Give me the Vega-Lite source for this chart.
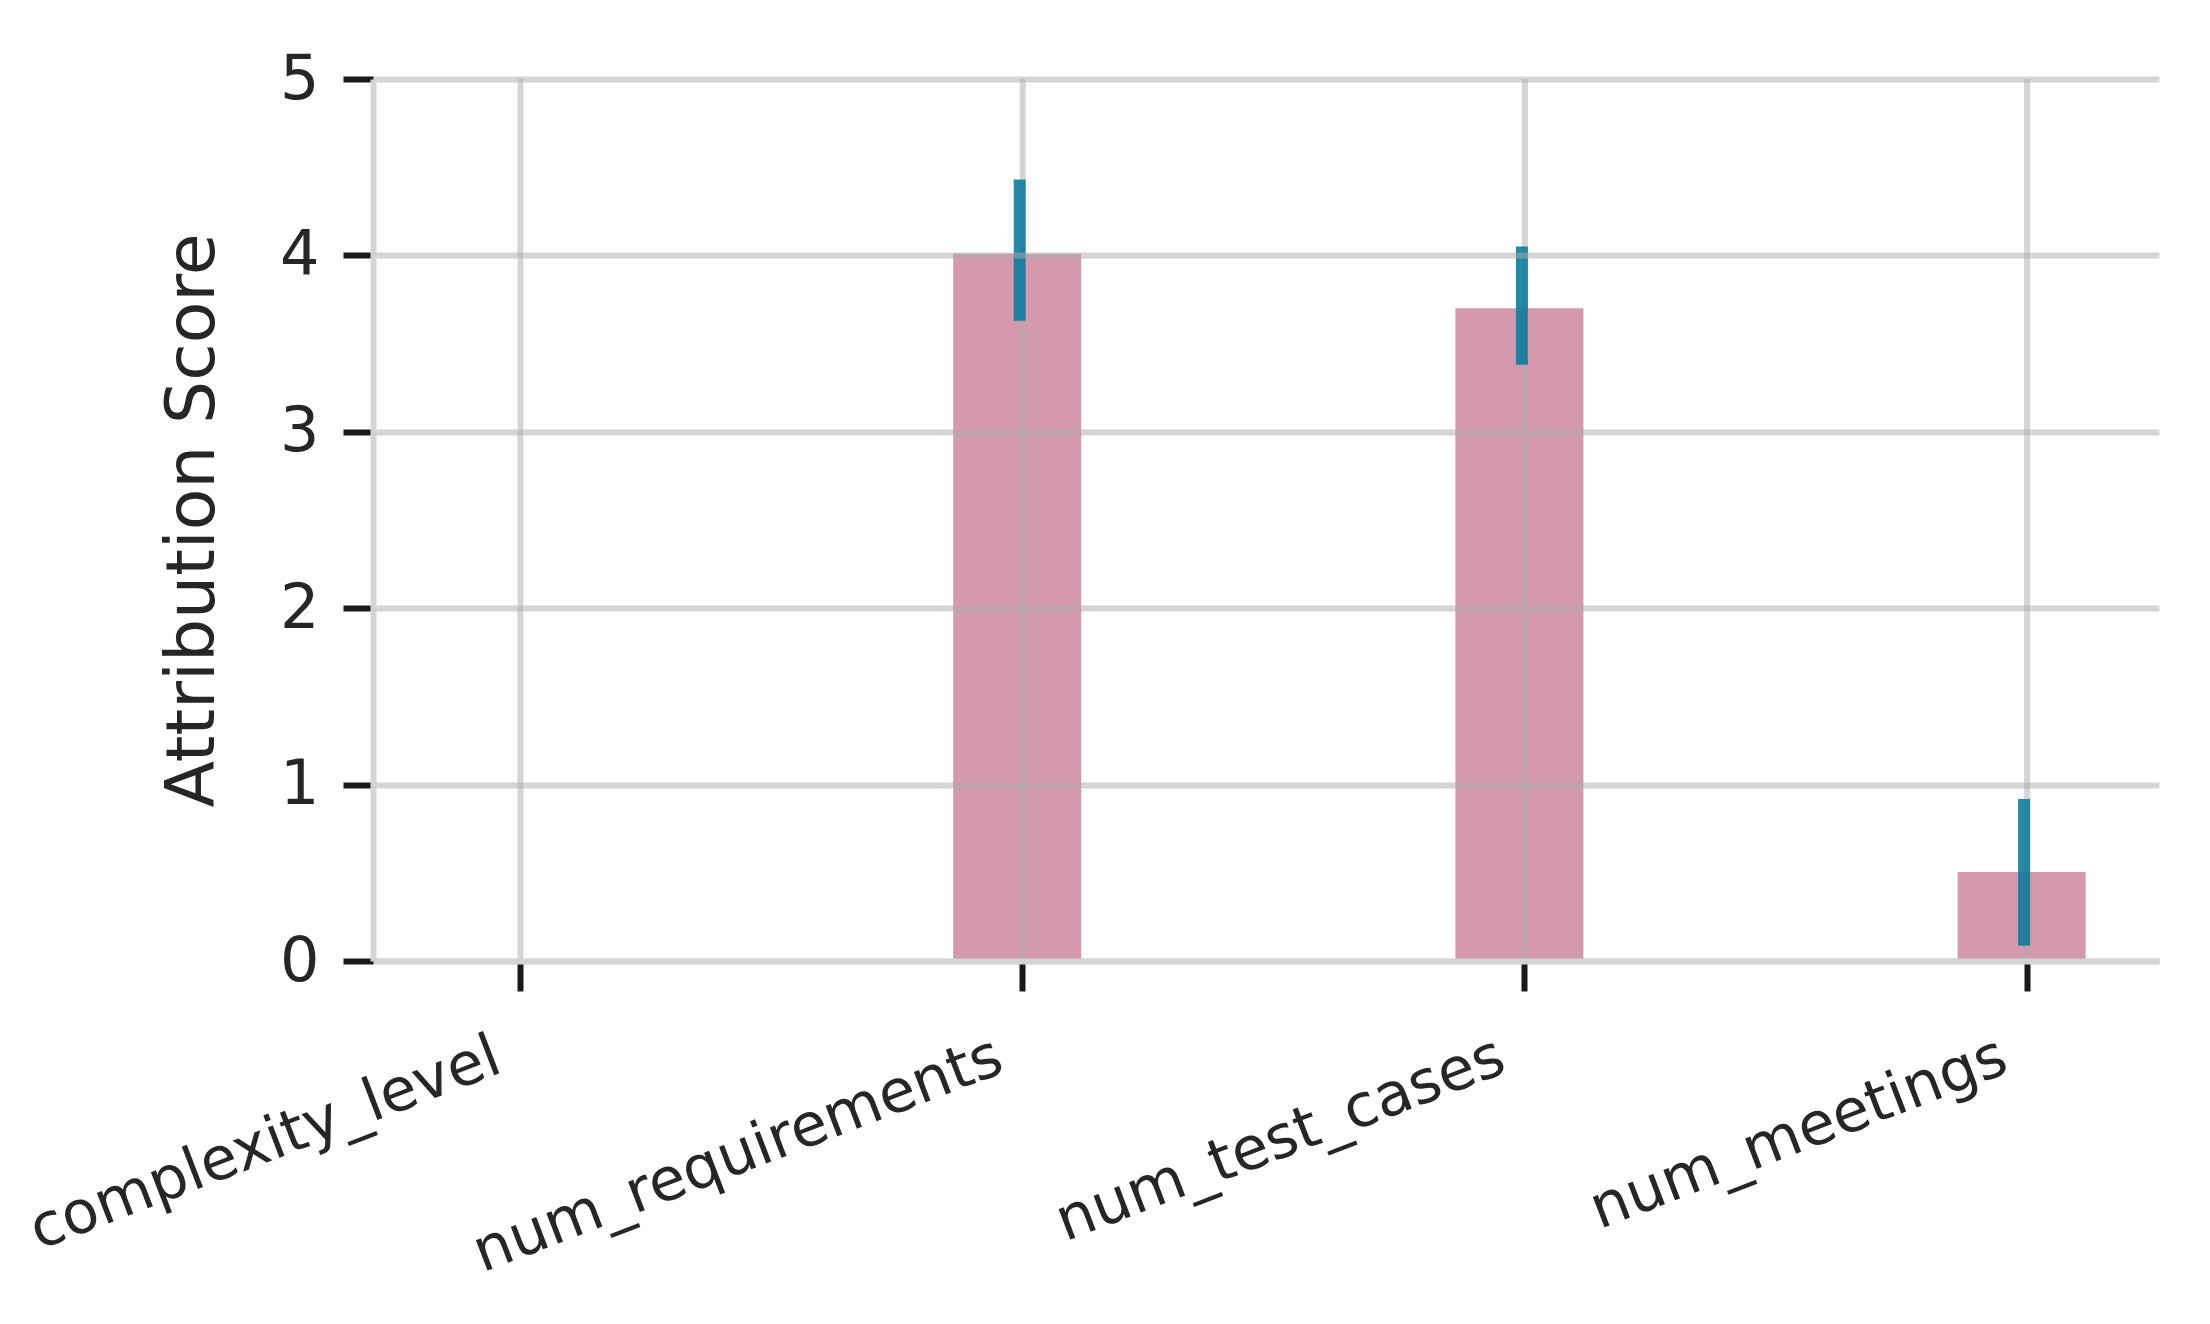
{
  "$schema": "https://vega.github.io/schema/vega-lite/v6.json",
  "width": 1786,
  "height": 882,
  "autosize": {"type": "none"},
  "padding": {"left": 373, "top": 79, "right": 51, "bottom": 363},
  "background": "white",
  "config": {"view": {"stroke": null}, "font": "DejaVu Sans"},
  "data": {
    "values": [
      {"feature": "complexity_level", "score": 0, "lo": 0, "hi": 0},
      {"feature": "num_requirements", "score": 4.01, "lo": 3.63, "hi": 4.43},
      {"feature": "num_test_cases", "score": 3.70, "lo": 3.38, "hi": 4.05},
      {"feature": "num_meetings", "score": 0.505, "lo": 0.087, "hi": 0.918}
    ]
  },
  "encoding": {
    "x": {
      "field": "feature",
      "type": "nominal",
      "sort": null,
      "scale": {"paddingInner": 0.7451, "paddingOuter": 0.1507, "align": 0.5515},
      "axis": {
        "title": null,
        "labelAngle": -21,
        "labelAlign": "right",
        "labelBaseline": "top",
        "labelLimit": 0,
        "labelFont": "DejaVu Sans",
        "labelFontSize": 59.5,
        "labelColor": "#262626",
        "labelPadding": 36,
        "labelOffset": -33,
        "grid": false,
        "domainColor": "#d5d5d5",
        "domainWidth": 6,
        "tickColor": "#1a1a1a",
        "tickSize": 30,
        "tickWidth": 6,
        "zindex": 1
      }
    }
  },
  "layer": [
    {
      "mark": {"type": "bar", "color": "#d499ac", "xOffset": -5.5},
      "encoding": {
        "y": {
          "field": "score",
          "type": "quantitative",
          "scale": {"domain": [0, 5]},
          "axis": {
            "title": "Attribution Score",
            "values": [0, 1, 2, 3, 4, 5],
            "format": "d",
            "grid": true,
            "gridColor": "#ababab",
            "gridOpacity": 0.5,
            "gridWidth": 6,
            "domainColor": "#d5d5d5",
            "domainWidth": 6,
            "tickColor": "#1a1a1a",
            "tickSize": 30,
            "tickWidth": 6,
            "labelFont": "DejaVu Sans",
            "labelFontSize": 62,
            "labelColor": "#262626",
            "labelPadding": 24,
            "titleFont": "DejaVu Sans",
            "titleFontSize": 68,
            "titleFontWeight": "normal",
            "titleColor": "#262626",
            "titlePadding": 52,
            "zindex": 1
          }
        }
      }
    },
    {
      "mark": {"type": "rule", "color": "#ababab", "opacity": 0.5, "strokeWidth": 6},
      "encoding": {}
    },
    {
      "mark": {"type": "rule", "color": "#0d7c9f", "opacity": 0.9, "strokeWidth": 12, "xOffset": -3},
      "encoding": {
        "y": {"field": "lo", "type": "quantitative"},
        "y2": {"field": "hi"}
      }
    }
  ]
}
